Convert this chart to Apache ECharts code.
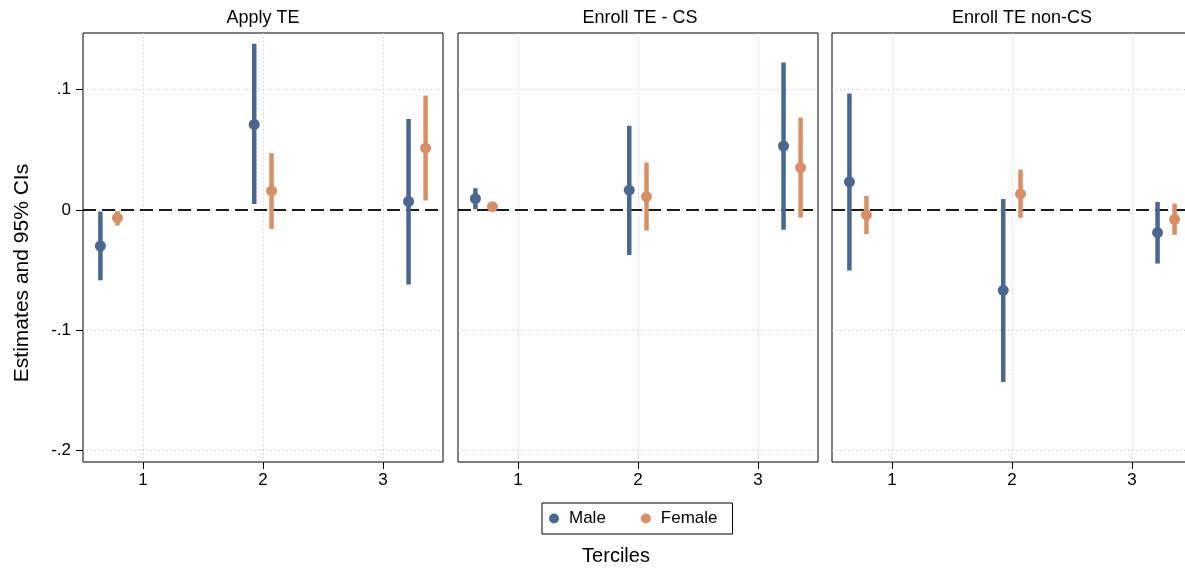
<!DOCTYPE html>
<html>
<head>
<meta charset="utf-8">
<script src="https://cdn.jsdelivr.net/npm/echarts@6/dist/echarts.min.js"></script>
<style>
html,body{margin:0;padding:0;background:#fff;}
#chart{width:1185px;height:572px;}
</style>
</head>
<body>
<div id="chart"></div>
<script>
// ---- data ----
const panelTitles = ['Apply TE', 'Enroll TE - CS', 'Enroll TE non-CS'];
const seriesNames = ['Male', 'Female'];
const xTickValues = [1, 2, 3];
const xTickLabels = ['1', '2', '3'];
const yTickValues = [-0.2, -0.1, 0, 0.1];
const yTickLabels = ['-.2', '-.1', '0', '.1'];
// x positions of estimates (tercile with dodge)
const maleX = [0.645, 1.927, 3.213];
const femaleX = [0.787, 2.071, 3.355];

// Apply TE
const applyMaleEst = [-0.030, 0.071, 0.007];
const applyMaleLo = [-0.0585, 0.005, -0.062];
const applyMaleHi = [-0.0014, 0.138, 0.0756];
const applyFemaleEst = [-0.0066, 0.0158, 0.0513];
const applyFemaleLo = [-0.013, -0.0158, 0.0078];
const applyFemaleHi = [-0.001, 0.047, 0.095];
// Enroll TE - CS
const csMaleEst = [0.0094, 0.0164, 0.053];
const csMaleLo = [0.0006, -0.0374, -0.0166];
const csMaleHi = [0.018, 0.070, 0.1225];
const csFemaleEst = [0.0027, 0.011, 0.0352];
const csFemaleLo = [0.001, -0.0172, -0.0064];
const csFemaleHi = [0.0045, 0.0393, 0.0767];
// Enroll TE non-CS
const ncsMaleEst = [0.0233, -0.0668, -0.0188];
const ncsMaleLo = [-0.0504, -0.143, -0.0446];
const ncsMaleHi = [0.0967, 0.0091, 0.0066];
const ncsFemaleEst = [-0.0042, 0.0133, -0.0078];
const ncsFemaleLo = [-0.02, -0.0066, -0.0208];
const ncsFemaleHi = [0.0116, 0.0335, 0.0053];

// ---- build ----
const colors = {Male: '#4a6790', Female: '#d98f66'};
const FONT = '"Liberation Sans", Arial, Helvetica, sans-serif';
const panels = [
  {Male: [applyMaleEst, applyMaleLo, applyMaleHi], Female: [applyFemaleEst, applyFemaleLo, applyFemaleHi]},
  {Male: [csMaleEst, csMaleLo, csMaleHi], Female: [csFemaleEst, csFemaleLo, csFemaleHi]},
  {Male: [ncsMaleEst, ncsMaleLo, ncsMaleHi], Female: [ncsFemaleEst, ncsFemaleLo, ncsFemaleHi]}
];
const xPos = {Male: maleX, Female: femaleX};
const gridLefts = [83, 458, 832];
const titleCenters = [263, 640, 1022];
const grids = [], xAxes = [], yAxes = [], series = [], graphics = [];
const gridLine = {show: true, lineStyle: {color: '#c4c4c4', width: 1, type: [1, 3]}};

panels.forEach((p, i) => {
  grids.push({left: gridLefts[i], top: 33, width: 360, height: 429, show: true,
    outerBoundsMode: 'none', containLabel: false,
    borderColor: '#000', borderWidth: 1, backgroundColor: 'transparent'});
  xAxes.push({gridIndex: i, type: 'value', min: 0.5, max: 3.5, position: 'bottom',
    axisLine: {show: false, onZero: false},
    axisTick: {show: true, length: 7, customValues: xTickValues, lineStyle: {color: '#000', width: 1}},
    axisLabel: {customValues: xTickValues, margin: 10, fontSize: 17, color: '#000', fontFamily: FONT,
      formatter: v => xTickLabels[xTickValues.findIndex(t => Math.abs(t - v) < 1e-9)] ?? ''},
    splitLine: gridLine});
  yAxes.push({gridIndex: i, type: 'value', min: -0.2095, max: 0.147, position: 'left',
    axisLine: {show: false, onZero: false},
    axisTick: {show: i === 0, length: 7, customValues: yTickValues, lineStyle: {color: '#000', width: 1}},
    axisLabel: {show: i === 0, customValues: yTickValues, margin: 12, fontSize: 17, color: '#000', fontFamily: FONT,
      formatter: v => yTickLabels[yTickValues.findIndex(t => Math.abs(t - v) < 1e-9)] ?? ''},
    splitLine: gridLine});
  seriesNames.forEach((name, k) => {
    const [est, lo, hi] = p[name];
    const xs = xPos[name];
    series.push({
      name: name, type: 'custom', xAxisIndex: i, yAxisIndex: i, z: 3,
      itemStyle: {color: colors[name]},
      encode: {x: 0, y: [1, 2]},
      data: xs.map((x, j) => [x, lo[j], hi[j]]),
      renderItem: (params, api) => {
        const a = api.coord([api.value(0), api.value(1)]);
        const b = api.coord([api.value(0), api.value(2)]);
        return {type: 'line', shape: {x1: a[0], y1: a[1], x2: b[0], y2: b[1]},
          style: {stroke: colors[name], lineWidth: 4.5}};
      },
      markLine: k === 0 ? {silent: true, symbol: 'none', label: {show: false},
        lineStyle: {color: '#1a1a1a', width: 2, type: [13, 6]}, z: 2,
        data: [{yAxis: 0}]} : undefined
    });
    series.push({
      name: name, type: 'scatter', xAxisIndex: i, yAxisIndex: i, z: 4,
      symbol: 'circle', symbolSize: 11,
      itemStyle: {color: colors[name], opacity: 1},
      data: xs.map((x, j) => [x, est[j]])
    });
  });
  graphics.push({type: 'text', x: titleCenters[i], y: 18,
    style: {text: panelTitles[i], fontSize: 18, fontFamily: FONT, fill: '#000',
      textAlign: 'center', textVerticalAlign: 'middle'}});
});

graphics.push({type: 'text', x: 22, y: 273, rotation: Math.PI / 2,
  style: {text: 'Estimates and 95% CIs', fontSize: 21, fontFamily: FONT, fill: '#000',
    textAlign: 'center', textVerticalAlign: 'middle'}});
graphics.push({type: 'text', x: 616, y: 556,
  style: {text: 'Terciles', fontSize: 20, fontFamily: FONT, fill: '#000',
    textAlign: 'center', textVerticalAlign: 'middle'}});

const chart = echarts.init(document.getElementById('chart'), null, {renderer: 'canvas'});
chart.setOption({
  animation: false,
  backgroundColor: '#fff',
  grid: grids, xAxis: xAxes, yAxis: yAxes, series: series,
  legend: {
    data: seriesNames.map(n => ({name: n, icon: 'circle', itemStyle: {color: colors[n]}})),
    left: 542, top: 503, orient: 'horizontal',
    itemWidth: 20, itemHeight: 10, itemGap: 35,
    padding: [7, 15, 7, 7],
    borderColor: '#000', borderWidth: 1,
    textStyle: {fontSize: 17, fontFamily: FONT, color: '#000'}
  },
  graphic: graphics
});
</script>
</body>
</html>
